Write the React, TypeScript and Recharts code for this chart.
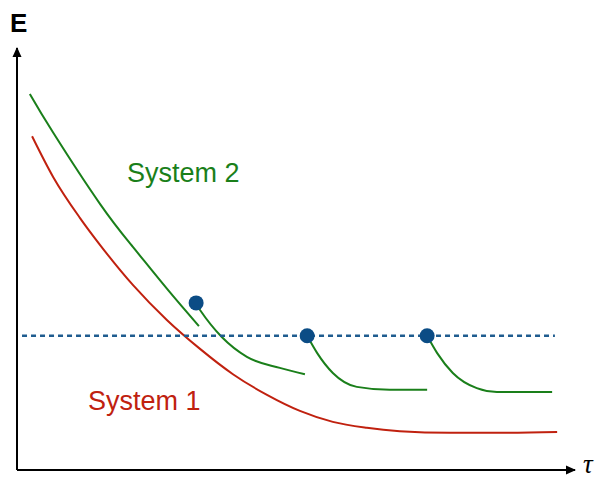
import React from 'react';
import { ComposedChart, Line, Scatter, XAxis, YAxis, ReferenceDot, ReferenceLine } from 'recharts';

// System 1 (red) curve
const system1Tau = [2.7, 6.5, 11.3, 14.9, 20.8, 26.9, 32.8, 38.7, 44.8, 50.7, 56.6, 62.7, 68.6, 77.6, 86.6, 96.8];
const system1E = [79.1, 69.4, 59.7, 53.3, 43.8, 35.5, 28.7, 22.7, 17.8, 14.0, 11.4, 10.0, 9.2, 8.8, 8.8, 9.0];

// System 2 (green) main curve
const system2Tau = [2.3, 6.5, 14.9, 20.8, 26.9, 32.6];
const system2E = [89.1, 79.9, 63.0, 52.8, 42.9, 34.1];

// System 2 relaxation segments
const seg2Tau = [32.1, 32.8, 36.7, 41.2, 47.1, 51.6];
const seg2E = [39.3, 37.9, 31.5, 26.8, 24.2, 22.7];
const seg3Tau = [52.0, 53.8, 56.6, 60.9, 66.8, 73.5];
const seg3E = [31.8, 27.7, 23.0, 19.7, 19.0, 19.0];
const seg4Tau = [73.5, 75.3, 78.1, 82.4, 86.0, 95.9];
const seg4E = [31.8, 27.7, 23.0, 19.4, 18.5, 18.5];

// Dots
const dotTau = [32.1, 52.0, 73.5];
const dotE = [39.6, 31.8, 31.8];

// Dashed threshold
const thresholdTau = [0.9, 96.4];
const thresholdE = [31.8, 31.8];

const zip = (xs: number[], ys: number[]) => xs.map((x, i) => ({ tau: x, e: ys[i] }));

const GREEN = '#1a7f1a';
const RED = '#c0210f';
const BLUE = '#0b4c85';

const ArrowRight = (props: any) => {
  const { cx, cy } = props;
  return <polygon points={`${cx - 9},${cy - 4.5} ${cx + 1},${cy} ${cx - 9},${cy + 4.5}`} fill="#000" />;
};
const ArrowUp = (props: any) => {
  const { cx, cy } = props;
  return <polygon points={`${cx - 4.5},${cy + 9} ${cx},${cy - 1} ${cx + 4.5},${cy + 9}`} fill="#000" />;
};
const BigDot = (props: any) => {
  const { cx, cy } = props;
  return <circle cx={cx} cy={cy} r={7.5} fill={BLUE} />;
};

export default function App() {
  const lineProps = { dataKey: 'e', dot: false, activeDot: false, isAnimationActive: false, type: 'natural' as const, strokeWidth: 2 };
  return (
    <div style={{ position: 'absolute', left: 0, top: 0, width: 602, height: 479, background: '#fff' }}>
      <ComposedChart width={602} height={479} margin={{ top: 48, right: 27, bottom: 9, left: 17 }}>
        <XAxis type="number" dataKey="tau" domain={[0, 100]} hide allowDataOverflow />
        <YAxis type="number" dataKey="e" domain={[0, 100]} hide allowDataOverflow />
        <ReferenceLine y={0} stroke="#000" strokeWidth={2} ifOverflow="visible" />
        <ReferenceLine x={0} stroke="#000" strokeWidth={2} ifOverflow="visible" />
        <Line {...lineProps} data={zip(system1Tau, system1E)} stroke={RED} type="monotone" />
        <Line {...lineProps} data={zip(system2Tau, system2E)} stroke={GREEN} />
        <Line {...lineProps} data={zip(seg2Tau, seg2E)} stroke={GREEN} type="monotone" />
        <Line {...lineProps} data={zip(seg3Tau, seg3E)} stroke={GREEN} type="monotone" />
        <Line {...lineProps} data={zip(seg4Tau, seg4E)} stroke={GREEN} type="monotone" />
        <Line {...lineProps} type="linear" data={zip(thresholdTau, thresholdE)} stroke="#1f5c8f" strokeWidth={2.5} strokeDasharray="5 4" />
        <Scatter data={zip(dotTau, dotE)} dataKey="e" fill={BLUE} shape={BigDot} isAnimationActive={false} />
        <ReferenceDot x={100} y={0} r={0} shape={ArrowRight} ifOverflow="visible" />
        <ReferenceDot x={0} y={100} r={0} shape={ArrowUp} ifOverflow="visible" />
      </ComposedChart>
      <svg width={602} height={479} style={{ position: 'absolute', left: 0, top: 0, pointerEvents: 'none' }}>
        <text x={10} y={32} fontFamily="Liberation Sans, Arial, sans-serif" fontWeight="bold" fontSize={26} fill="#000">E</text>
        <text x={127} y={182} fontFamily="Liberation Sans, Arial, sans-serif" fontSize={27} fill={GREEN}>System 2</text>
        <text x={88} y={410} fontFamily="Liberation Sans, Arial, sans-serif" fontSize={27} fill={RED}>System 1</text>
        <text x={583} y={473} fontFamily="Liberation Serif, Times New Roman, serif" fontStyle="italic" fontSize={27} fill="#000">τ</text>
      </svg>
    </div>
  );
}
